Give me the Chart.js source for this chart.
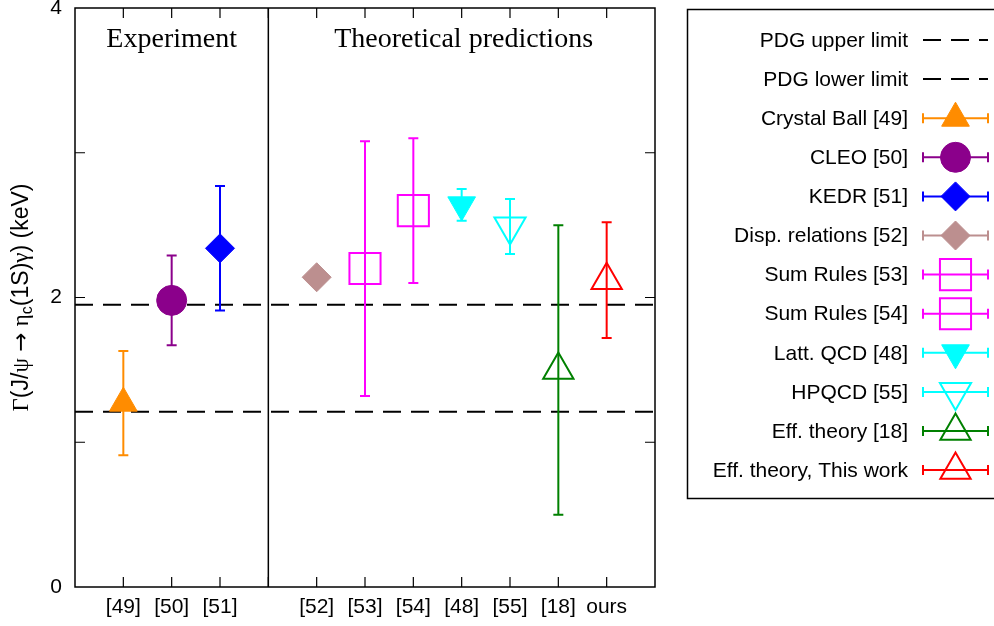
<!DOCTYPE html>
<html>
<head>
<meta charset="utf-8">
<script src="https://cdn.jsdelivr.net/npm/chart.js@4.4.1/dist/chart.umd.min.js"></script>
<style>
  html, body { margin: 0; padding: 0; background: #fff; }
  #wrap { width: 994px; height: 626px; position: relative; }
</style>
</head>
<body>
<div id="wrap"><canvas id="c"></canvas></div>
<script>
// ---------------- data ----------------
const categories = ['[49]', '[50]', '[51]', '[52]', '[53]', '[54]', '[48]', '[55]', '[18]', 'ours'];
const xPositions = [1, 2, 3, 5, 6, 7, 8, 9, 10, 11];
const seriesNames = ['Crystal Ball [49]', 'CLEO [50]', 'KEDR [51]', 'Disp. relations [52]',
  'Sum Rules [53]', 'Sum Rules [54]', 'Latt. QCD [48]', 'HPQCD [55]', 'Eff. theory [18]',
  'Eff. theory, This work'];
const values  = [1.27, 1.98, 2.34, 2.14, 2.20, 2.60, 2.64, 2.49, 1.50, 2.12];
const errLow  = [0.91, 1.67, 1.91, null, 1.32, 2.10, 2.53, 2.30, 0.50, 1.72];
const errHigh = [1.63, 2.29, 2.77, null, 3.08, 3.10, 2.75, 2.68, 2.50, 2.52];
const pdgUpper = 1.95;
const pdgLower = 1.21;
const limitNames = ['PDG upper limit', 'PDG lower limit'];
const separatorX = 4;
const xRange = [0, 12];
const yRange = [0, 4];
const yTickLabels = [0, 2, 4];
const groupLabels = ['Experiment', 'Theoretical predictions'];
const groupCenters = [2, 8.04];
const groupLabelY = 3.78;

// ---------------- styles ----------------
const colors = ['#ff8c00', '#8b008b', '#0000ff', '#bc8f8f', '#ff00ff', '#ff00ff', '#00ffff', '#00ffff', '#008000', '#ff0000'];
const shapes = ['triangle', 'circle', 'rectRot', 'rectRot', 'rect', 'rect', 'triangle', 'triangle', 'triangle', 'triangle'];
const radii  = [16, 15, 14.5, 14.5, 22, 22, 16, 18, 17.5, 17.5];
const rotations = [0, 0, 0, 0, 0, 0, 180, 180, 0, 0];
const filled = [true, true, true, true, false, false, true, false, false, false];

const SANS = "'Liberation Sans', Arial, Helvetica, sans-serif";
const SERIF = "'Liberation Serif', 'Times New Roman', serif";

const pointDatasets = seriesNames.map((name, i) => ({
  label: name,
  data: [{ x: xPositions[i], y: values[i] }],
  pointStyle: shapes[i],
  pointRadius: radii[i],
  pointHoverRadius: radii[i],
  pointRotation: rotations[i],
  backgroundColor: filled[i] ? colors[i] : 'rgba(0,0,0,0)',
  borderColor: colors[i],
  borderWidth: filled[i] ? 1 : 2,
  showLine: false,
  order: 1,
  errIndex: i
}));

const lineDatasets = [
  { label: limitNames[0], data: [{ x: xRange[0], y: pdgUpper }, { x: xRange[1], y: pdgUpper }] },
  { label: limitNames[1], data: [{ x: xRange[0], y: pdgLower }, { x: xRange[1], y: pdgLower }] }
].map(d => Object.assign(d, {
  showLine: true, borderColor: '#000', borderWidth: 2, borderDash: [18, 10],
  pointRadius: 0, pointHoverRadius: 0, order: 5, fill: false
}));

const separatorDataset = {
  label: 'separator',
  data: [{ x: separatorX, y: yRange[0] }, { x: separatorX, y: yRange[1] }],
  showLine: true, borderColor: '#000', borderWidth: 1.5, pointRadius: 0, pointHoverRadius: 0,
  order: 6, fill: false
};

// ---------------- plugins ----------------
const errorBarPlugin = {
  id: 'errorBars',
  beforeDatasetDraw(chart, args) {
    const ds = chart.data.datasets[args.index];
    if (ds.errIndex === undefined) return;
    const i = ds.errIndex;
    if (errLow[i] === null) return;
    const xs = chart.scales.x, ys = chart.scales.y;
    const ctx = chart.ctx;
    const px = xs.getPixelForValue(xPositions[i]);
    const p1 = ys.getPixelForValue(errLow[i]);
    const p2 = ys.getPixelForValue(errHigh[i]);
    ctx.save();
    ctx.strokeStyle = colors[i];
    ctx.lineWidth = 2;
    ctx.beginPath();
    ctx.moveTo(px, p1); ctx.lineTo(px, p2);
    ctx.moveTo(px - 5, p1); ctx.lineTo(px + 5, p1);
    ctx.moveTo(px - 5, p2); ctx.lineTo(px + 5, p2);
    ctx.stroke();
    ctx.restore();
  }
};

const framePlugin = {
  id: 'frame',
  afterDatasetsDraw(chart) {
    const { ctx, chartArea: a } = chart;
    const xs = chart.scales.x, ys = chart.scales.y;
    ctx.save();
    ctx.strokeStyle = '#000';
    ctx.lineWidth = 1.5;
    ctx.strokeRect(a.left, a.top, a.right - a.left, a.bottom - a.top);
    ctx.lineWidth = 1.2;
    ctx.beginPath();
    for (let v = xRange[0] + 1; v < xRange[1]; v++) {
      const px = xs.getPixelForValue(v);
      ctx.moveTo(px, a.bottom); ctx.lineTo(px, a.bottom - 10);
      ctx.moveTo(px, a.top); ctx.lineTo(px, a.top + 10);
    }
    for (let v = yRange[0] + 1; v < yRange[1]; v++) {
      const py = ys.getPixelForValue(v);
      ctx.moveTo(a.left, py); ctx.lineTo(a.left + 10, py);
      ctx.moveTo(a.right, py); ctx.lineTo(a.right - 10, py);
    }
    ctx.stroke();

    // group labels
    ctx.fillStyle = '#000';
    ctx.font = '28px ' + SERIF;
    ctx.textAlign = 'center';
    ctx.textBaseline = 'middle';
    groupLabels.forEach((t, k) => {
      ctx.fillText(t, xs.getPixelForValue(groupCenters[k]), ys.getPixelForValue(groupLabelY));
    });

    // y-axis title with subscript
    const F = 23;
    const segs = [
      { t: 'Γ', f: F + 'px ' + SERIF, dy: 0 },
      { t: '(J/', f: F + 'px ' + SANS, dy: 0 },
      { t: 'ψ', f: F + 'px ' + SERIF, dy: 0 },
      { t: ' ', f: F + 'px ' + SANS, dy: 0 },
      { t: '→', f: F + 'px ' + "'DejaVu Sans', sans-serif", dy: 0 },
      { t: ' ', f: F + 'px ' + SANS, dy: 0 },
      { t: 'η', f: F + 'px ' + SERIF, dy: 0 },
      { t: 'c', f: '16px ' + SANS, dy: 6 },
      { t: '(1S)', f: F + 'px ' + SANS, dy: 0 },
      { t: 'γ', f: F + 'px ' + SERIF, dy: 0 },
      { t: ') (keV)', f: F + 'px ' + SANS, dy: 0 }
    ];
    let total = 0;
    segs.forEach(s => { ctx.font = s.f; s.w = ctx.measureText(s.t).width; total += s.w; });
    ctx.translate(22, (a.top + a.bottom) / 2);
    ctx.rotate(-Math.PI / 2);
    ctx.textAlign = 'left';
    ctx.textBaseline = 'middle';
    let cx = -total / 2;
    segs.forEach(s => { ctx.font = s.f; ctx.fillText(s.t, cx, s.dy); cx += s.w; });
    ctx.restore();
  }
};

const legendPlugin = {
  id: 'customLegend',
  afterDraw(chart) {
    const ctx = chart.ctx;
    const boxL = 687.5, boxT = 9.5, boxB = 498.5;
    const rowY0 = 40, rowStep = 39.1;
    const textR = 908, s0 = 923, s1 = 988, sc = 955.5;
    ctx.save();
    ctx.strokeStyle = '#000';
    ctx.lineWidth = 1.5;
    ctx.strokeRect(boxL, boxT, 400, boxB - boxT);
    ctx.font = '21px ' + SANS;
    ctx.fillStyle = '#000';
    ctx.textAlign = 'right';
    ctx.textBaseline = 'middle';
    const names = limitNames.concat(seriesNames);
    names.forEach((n, r) => {
      const y = rowY0 + r * rowStep;
      ctx.fillStyle = '#000';
      ctx.fillText(n, textR, y + 1);
      if (r < 2) {
        ctx.save();
        ctx.strokeStyle = '#000';
        ctx.lineWidth = 2;
        ctx.setLineDash([18, 10]);
        ctx.beginPath(); ctx.moveTo(s0, y); ctx.lineTo(s1, y); ctx.stroke();
        ctx.restore();
        return;
      }
      const i = r - 2;
      ctx.save();
      ctx.strokeStyle = colors[i];
      ctx.lineWidth = 2;
      ctx.beginPath();
      ctx.moveTo(s0, y); ctx.lineTo(s1, y);
      ctx.moveTo(s0, y - 5); ctx.lineTo(s0, y + 5);
      ctx.moveTo(s1, y - 5); ctx.lineTo(s1, y + 5);
      ctx.stroke();
      ctx.fillStyle = filled[i] ? colors[i] : 'rgba(0,0,0,0)';
      ctx.lineWidth = filled[i] ? 1 : 2;
      Chart.helpers.drawPoint(ctx, {
        pointStyle: shapes[i], rotation: rotations[i], radius: radii[i],
        borderWidth: filled[i] ? 1 : 2
      }, sc, y);
      ctx.restore();
    });
    ctx.restore();
  }
};

// ---------------- chart ----------------
new Chart(document.getElementById('c'), {
  type: 'scatter',
  data: { datasets: lineDatasets.concat([separatorDataset], pointDatasets) },
  options: {
    responsive: true,
    maintainAspectRatio: false,
    animation: false,
    events: [],
    layout: { autoPadding: false, padding: { top: 8, right: 339, left: 0, bottom: 0 } },
    plugins: { legend: { display: false }, tooltip: { enabled: false } },
    scales: {
      x: {
        type: 'linear', min: xRange[0], max: xRange[1],
        grid: { display: false, drawTicks: false },
        border: { display: false },
        afterFit: s => { s.height = 39; s.paddingLeft = 0; s.paddingRight = 0; },
        afterBuildTicks: s => {
          const t = [];
          for (let v = xRange[0]; v <= xRange[1]; v++) t.push({ value: v });
          s.ticks = t;
        },
        ticks: {
          autoSkip: false, maxRotation: 0, minRotation: 0, padding: 8,
          color: '#000', font: { family: SANS, size: 21 },
          callback: v => { const k = xPositions.indexOf(v); return k >= 0 ? categories[k] : ''; }
        }
      },
      y: {
        type: 'linear', min: yRange[0], max: yRange[1],
        grid: { display: false, drawTicks: false },
        border: { display: false },
        afterFit: s => { s.width = 75; s.paddingTop = 0; s.paddingBottom = 0; },
        afterBuildTicks: s => { s.ticks = yTickLabels.map(v => ({ value: v })); },
        ticks: {
          padding: 13, color: '#000', font: { family: SANS, size: 21 },
          callback: v => String(v)
        }
      }
    }
  },
  plugins: [errorBarPlugin, framePlugin, legendPlugin]
});
</script>
</body>
</html>
